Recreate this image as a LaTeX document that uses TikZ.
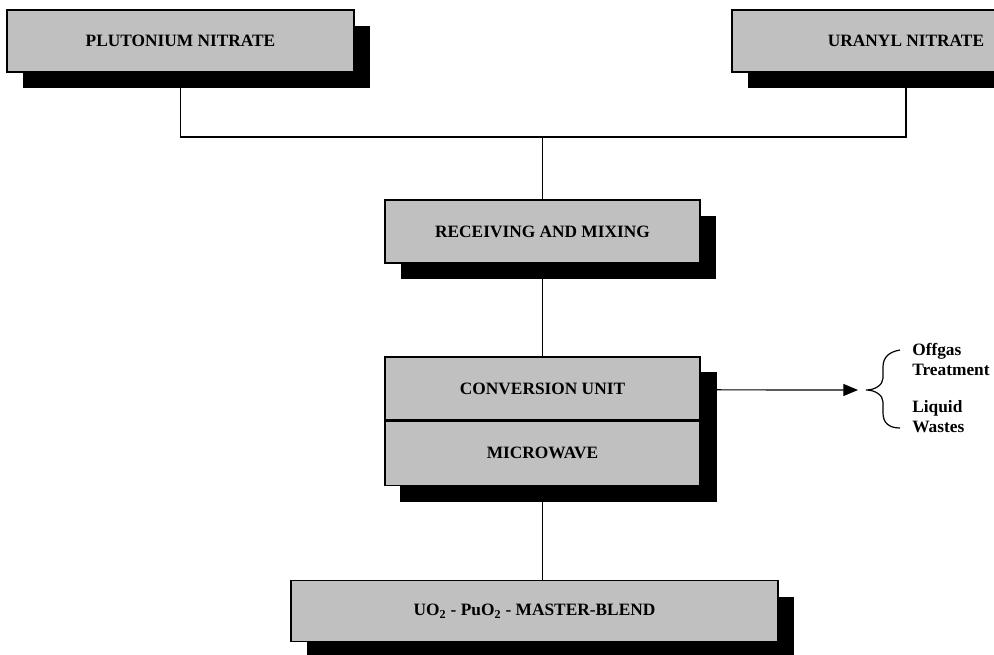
\documentclass[tikz,border=0pt]{standalone}
\usepackage{fontspec}
\setmainfont{Liberation Serif}
\usetikzlibrary{shadows,arrows.meta,backgrounds}
\definecolor{boxgray}{RGB}{192,192,192}
\tikzset{
  plainbox/.style={draw=black, line width=0.9pt, fill=boxgray, rectangle,
    inner sep=0pt, minimum width=236.25pt, minimum height=47.25pt,
    font=\fontsize{13}{15}\selectfont\bfseries},
  procbox/.style={plainbox,
    general shadow={fill=black, shadow xshift=12pt, shadow yshift=-12pt}},
  conn/.style={draw=black, line width=0.9pt},
  sidelabel/.style={align=left, anchor=west, inner sep=0pt,
    font=\fontsize{13}{15}\selectfont\bfseries}
}
\begin{document}
\begin{tikzpicture}[x=0.75pt, y=-0.75pt]
\clip (0,0) rectangle (994,654);

\node[procbox, minimum width=260.25pt, minimum height=46.5pt] (plut) at (180.5,41) {PLUTONIUM NITRATE};
\node[procbox, minimum width=261pt, minimum height=46.5pt] (uran) at (906,41) {URANYL NITRATE};
\node[procbox] (recv) at (542.5,231.5) {RECEIVING AND MIXING};
\node[plainbox] (conv) at (542.5,388.5) {CONVERSION UNIT};
\node[plainbox, minimum height=48pt, anchor=north] (micro) at (conv.south) {MICROWAVE};
\node[procbox, minimum width=365.25pt, minimum height=45.75pt] (blend) at (534.5,611)
  {UO\textsubscript{2} - PuO\textsubscript{2} - MASTER-BLEND};

\begin{scope}[on background layer]
  \fill[white] (0,0) rectangle (994,654);
  \fill[black] ([shift={(12pt,-12pt)}]conv.north west) rectangle ([shift={(12pt,-12pt)}]micro.south east);
\end{scope}

\coordinate (junc) at (recv.north |- 0,137);
\draw[conn] (plut.south) |- (junc) -| (uran.south);
\draw[conn] (junc) -- (recv.north);
\draw[conn] (recv.south) -- (conv.north);
\draw[conn] (micro.south) -- (micro.south |- blend.north);

\coordinate (tip) at (866,390);
\draw[conn, -{Triangle[length=11pt,width=9pt]}, shorten >=6pt]
  ([xshift=12pt,yshift=-1pt]conv.east) -- (tip);
\draw[line width=0.9pt] (900,350) .. controls (888,352) and (883,358) .. (883,367)
  -- (883,378) .. controls (883,385) and (875,390) .. (tip)
  .. controls (875,390) and (883,395) .. (883,402)
  -- (883,413) .. controls (883,422) and (888,428) .. (900,428);

\node[sidelabel] (offgas) at (912,359) {Offgas\\Treatment};
\node[sidelabel] (liquid) at (912,417) {Liquid\\Wastes};
\end{tikzpicture}
\end{document}
